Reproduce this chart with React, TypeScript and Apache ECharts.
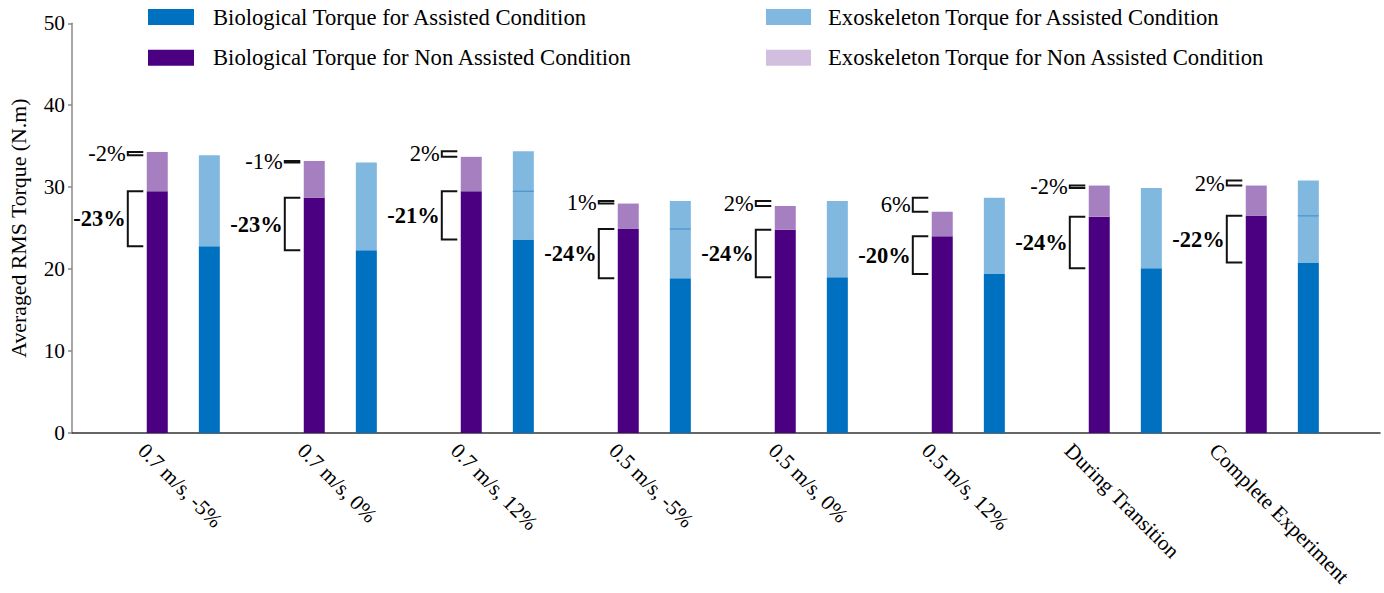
import React, { useEffect, useRef } from "react";
import * as echarts from "echarts";

const categories = [
  "0.7 m/s, -5%",
  "0.7 m/s, 0%",
  "0.7 m/s, 12%",
  "0.5 m/s, -5%",
  "0.5 m/s, 0%",
  "0.5 m/s, 12%",
  "During Transition",
  "Complete Experiment",
];
const naBio = [29.5, 28.7, 29.5, 24.9, 24.8, 24.0, 26.4, 26.5];
const naTotal = [34.3, 33.2, 33.7, 28.0, 27.7, 27.0, 30.2, 30.2];
const aBio = [22.8, 22.3, 23.6, 18.9, 19.0, 19.4, 20.1, 20.8];
const aTotal = [33.9, 33.0, 34.4, 28.3, 28.3, 28.7, 29.9, 30.8];
const bioPct = ["-23%", "-23%", "-21%", "-24%", "-24%", "-20%", "-24%", "-22%"];
const totalPct = ["-2%", "-1%", "2%", "1%", "2%", "6%", "-2%", "2%"];
const seamIdx = [2, 3, 7];
const yTicks = { min: 0, max: 50, interval: 10 };

const FONT = "'Liberation Serif', 'Times New Roman', Tinos, serif";
const C_BIO_NA = "#4B0082";
const C_EXO_NA = "#A57FC0";
const C_EXO_NA_LEG = "#D2BFE0";
const C_BIO_A = "#0070C0";
const C_EXO_A = "#80B8E0";

const N_BIO_A = "Biological Torque for Assisted Condition";
const N_BIO_NA = "Biological Torque for Non Assisted Condition";
const N_EXO_A = "Exoskeleton Torque for Assisted Condition";
const N_EXO_NA = "Exoskeleton Torque for Non Assisted Condition";

let ctx: CanvasRenderingContext2D | null = null;
function measure(text: string, font: string): number {
  if (!ctx) ctx = document.createElement("canvas").getContext("2d");
  if (!ctx) return text.length * 10;
  ctx.font = font;
  return ctx.measureText(text).width;
}

export default function App() {
  const ref = useRef<HTMLDivElement>(null);
  useEffect(() => {
    if (!ref.current) return;
    const chart = echarts.init(ref.current, undefined, { renderer: "svg" });
    const naExo = naTotal.map((t, i) => +(t - naBio[i]).toFixed(2));
    const aExo = aTotal.map((t, i) => +(t - aBio[i]).toFixed(2));
    const gridTop = 23.3;
    const gridBottom = 160;

    const bracket = (v1: number[], v2: number[], labels: string[], bold: boolean) => ({
      type: "custom",
      xAxisIndex: 1,
      yAxisIndex: 1,
      clip: false,
      z: 5,
      data: categories.map((_, i) => [i, v1[i], v2[i]]),
      encode: { x: 0, y: [1, 2] },
      renderItem: (params: any, api: any) => {
        const i = api.value(0);
        const a = api.coord([i, api.value(1)]);
        const b = api.coord([i, api.value(2)]);
        const xv = a[0] - 55.5;
        const xe = a[0] - 40;
        return {
          type: "group",
          children: [
            {
              type: "polyline",
              shape: { points: [[xe, a[1]], [xv, a[1]], [xv, b[1]], [xe, b[1]]] },
              style: { stroke: "#111", lineWidth: 2, fill: "none" },
            },
            {
              type: "text",
              x: xv - 2,
              y: (a[1] + b[1]) / 2,
              style: {
                text: labels[params.dataIndex],
                fontSize: 22.5,
                fontWeight: bold ? "bold" : "normal",
                fontFamily: FONT,
                fill: "#000",
                align: "right",
                verticalAlign: "middle",
                textAlign: "right",
                textVerticalAlign: "middle",
              },
            },
          ],
        };
      },
    });

    const option: any = {
      animation: false,
      textStyle: { fontFamily: FONT },
      legend: [
        {
          left: 143,
          top: 0,
          orient: "vertical",
          icon: "rect",
          itemWidth: 46,
          itemHeight: 16,
          itemGap: 16.7,
          selectedMode: false,
          textStyle: { fontSize: 22.67, fontFamily: FONT, color: "#000", lineHeight: 24, padding: [0, 0, 0, 14] },
          data: [
            { name: N_BIO_A, itemStyle: { color: C_BIO_A } },
            { name: N_BIO_NA, itemStyle: { color: C_BIO_NA } },
          ],
        },
        {
          left: 761,
          top: 0,
          orient: "vertical",
          icon: "rect",
          itemWidth: 45,
          itemHeight: 16,
          itemGap: 16.7,
          selectedMode: false,
          textStyle: { fontSize: 22.67, fontFamily: FONT, color: "#000", lineHeight: 24, padding: [0, 0, 0, 12] },
          data: [
            { name: N_EXO_A, itemStyle: { color: C_EXO_A } },
            { name: N_EXO_NA, itemStyle: { color: C_EXO_NA_LEG } },
          ],
        },
      ],
      grid: [
        { left: 70, right: 4, top: gridTop, bottom: gridBottom },
        { left: 104.8, width: 1256, top: gridTop, bottom: gridBottom },
      ],
      xAxis: [
        {
          gridIndex: 0,
          type: "value",
          min: 0,
          max: 1,
          axisLine: { show: true, lineStyle: { color: "#333", width: 1.5 } },
          axisTick: { show: false },
          axisLabel: { show: false },
          splitLine: { show: false },
        },
        {
          gridIndex: 1,
          type: "category",
          data: categories,
          show: false,
        },
      ],
      yAxis: [
        {
          gridIndex: 0,
          type: "value",
          min: yTicks.min,
          max: yTicks.max,
          interval: yTicks.interval,
          name: "Averaged RMS Torque (N.m)",
          nameLocation: "middle",
          nameGap: 42,
          nameTextStyle: { fontSize: 21.8, fontFamily: FONT, color: "#000" },
          axisLine: { show: true, lineStyle: { color: "#888", width: 1.5 } },
          axisTick: { show: true, length: 4, lineStyle: { color: "#888", width: 1.5 } },
          axisLabel: { fontSize: 21.33, fontFamily: FONT, color: "#000", margin: 7 },
          splitLine: { show: false },
        },
        {
          gridIndex: 1,
          type: "value",
          min: yTicks.min,
          max: yTicks.max,
          interval: yTicks.interval,
          show: false,
        },
      ],
      series: [
        {
          name: N_BIO_NA,
          type: "bar",
          xAxisIndex: 1,
          yAxisIndex: 1,
          stack: "na",
          barWidth: 21,
          barGap: "148%",
          itemStyle: { color: C_BIO_NA },
          data: naBio,
        },
        {
          name: N_EXO_NA,
          type: "bar",
          xAxisIndex: 1,
          yAxisIndex: 1,
          stack: "na",
          barWidth: 21,
          barGap: "148%",
          itemStyle: { color: C_EXO_NA },
          data: naExo,
        },
        {
          name: N_BIO_A,
          type: "bar",
          xAxisIndex: 1,
          yAxisIndex: 1,
          stack: "a",
          barWidth: 21,
          barGap: "148%",
          itemStyle: { color: C_BIO_A },
          data: aBio,
        },
        {
          name: N_EXO_A,
          type: "bar",
          xAxisIndex: 1,
          yAxisIndex: 1,
          stack: "a",
          barWidth: 21,
          barGap: "148%",
          itemStyle: { color: C_EXO_A },
          data: aExo,
        },
        {
          type: "custom",
          xAxisIndex: 1,
          yAxisIndex: 1,
          z: 4,
          data: seamIdx.map((i) => [i, naBio[i]]),
          encode: { x: 0, y: 1 },
          renderItem: (_p: any, api: any) => {
            const p = api.coord([api.value(0), api.value(1)]);
            const cx = p[0] + 26;
            return {
              type: "line",
              shape: { x1: cx - 10.5, y1: p[1], x2: cx + 10.5, y2: p[1] },
              style: { stroke: "#4A94CC", lineWidth: 1.2 },
            };
          },
        },
        bracket(naBio, aBio, bioPct, true),
        bracket(naTotal, aTotal, totalPct, false),
        {
          type: "custom",
          xAxisIndex: 1,
          yAxisIndex: 1,
          clip: false,
          data: categories.map((_, i) => [i, 0]),
          encode: { x: 0, y: 1 },
          renderItem: (params: any, api: any) => {
            const p = api.coord([api.value(0), 0]);
            const text = categories[params.dataIndex];
            const L = measure(text, `21.33px ${FONT}`);
            return {
              type: "text",
              x: p[0] - 0.354 * L - 3,
              y: p[1] + 14,
              rotation: -Math.PI / 4,
              style: {
                text,
                x: 0,
                y: 0,
                fontSize: 21.33,
                fontFamily: FONT,
                fill: "#000",
                align: "left",
                verticalAlign: "middle",
                textAlign: "left",
                textVerticalAlign: "middle",
              },
            };
          },
        },
      ],
    };
    chart.setOption(option);
    return () => chart.dispose();
  }, []);
  return (
    <div
      ref={ref}
      style={{ position: "fixed", left: 0, top: 0, width: 1384, height: 593, background: "#fff" }}
    />
  );
}
